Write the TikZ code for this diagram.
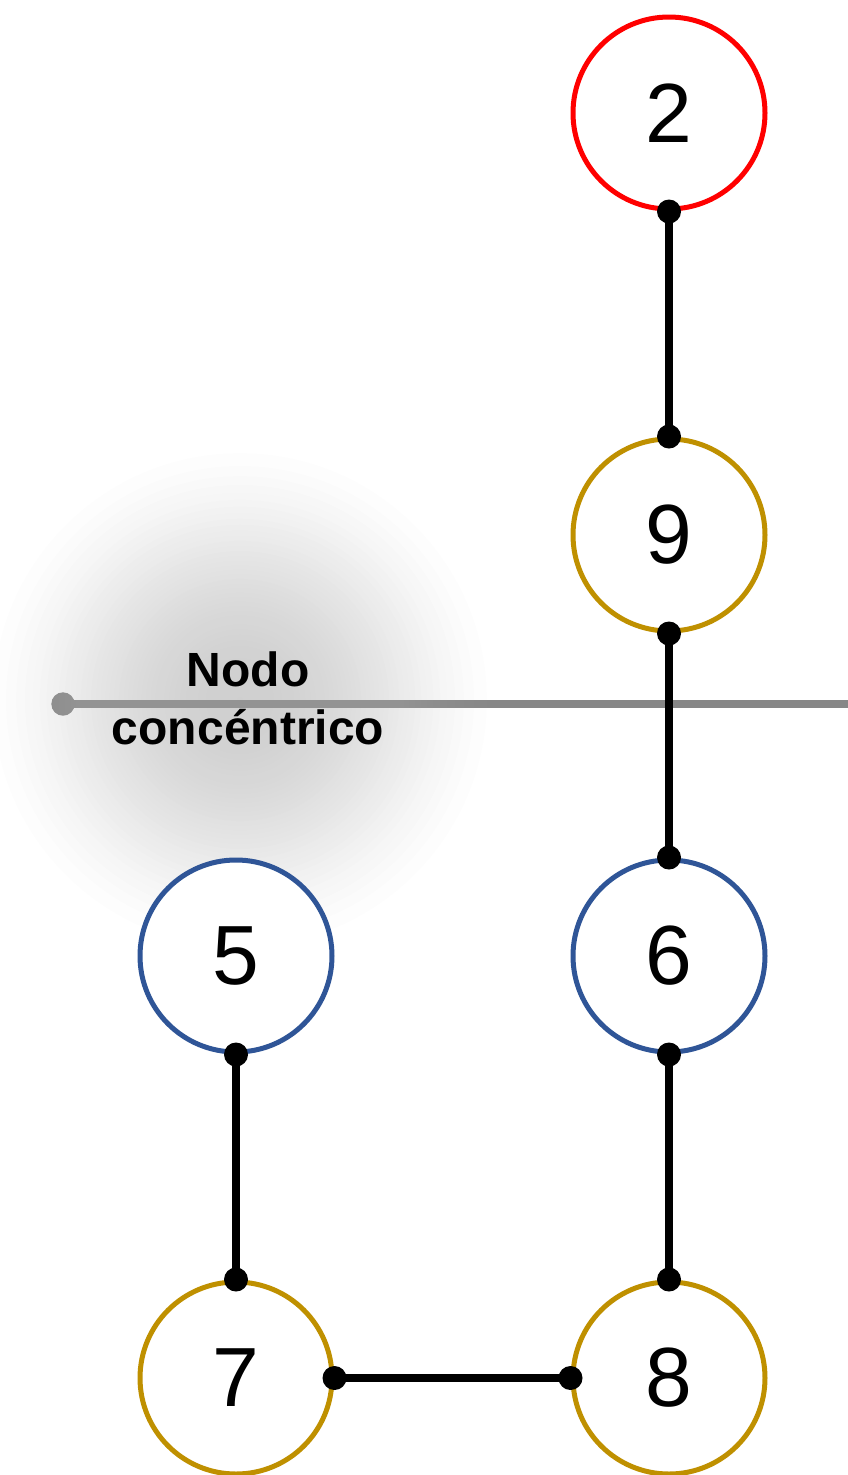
\documentclass[tikz,border=0pt]{standalone}
\usepackage{fontspec}
\setmainfont{Liberation Sans}
\definecolor{cred}{HTML}{FF0000}
\definecolor{cgold}{HTML}{BF9000}
\definecolor{cblue}{HTML}{2F5597}
\definecolor{cline}{HTML}{878787}
\definecolor{cglow}{HTML}{B7B7B7}
\newcommand{\edgedot}[1]{\fill[black] (#1) circle[radius=12pt];}
\tikzset{
  vnode/.style={circle, draw, line width=5pt, minimum size=192pt, inner sep=0pt, fill=white, font=\fontsize{84}{100}\selectfont},
  conn/.style={line width=8pt, black},
  refline/.style={line width=8pt, cline}
}
\begin{document}
\begin{tikzpicture}[x=1pt,y=-1pt]
\useasboundingbox (0,0) rectangle (848,1475);
% reference line
\coordinate (ls) at (63,704);
\coordinate (le) at (848,704);
\draw[refline] (ls) -- (le);
\fill[cline] (ls) circle[radius=11.7pt];
% glow: stacked translucent discs
\coordinate (gc) at (240,700);
\foreach \k in {1,...,40}{
  \pgfmathsetmacro{\q}{min(1,(1-pow(0.9734,\k))/0.66)}
  \pgfmathsetmacro{\rr}{275*sqrt(max(0,1-sqrt(\q)))+1}
  \fill[cglow, fill opacity=0.0266] (gc) circle[radius=\rr];
}
\node[font=\bfseries\fontsize{48}{58}\selectfont, align=center] (lab) at (248,698) {Nodo\\concéntrico};
% nodes
\node[vnode, draw=cred] (n2) at (669,113) {2};
\node[vnode, draw=cgold] (n9) at (669,535) {9};
\node[vnode, draw=cblue] (n6) at (669,956) {6};
\node[vnode, draw=cblue] (n5) at (236,956) {5};
\node[vnode, draw=cgold] (n7) at (236,1378) {7};
\node[vnode, draw=cgold] (n8) at (669,1378) {8};
% connectors
\draw[conn] (n2.south) -- (n9.north);
\draw[conn] (n9.south) -- (n6.north);
\draw[conn] (n6.south) -- (n8.north);
\draw[conn] (n5.south) -- (n7.north);
\draw[conn] (n7.east) -- (n8.west);
\edgedot{n2.south}\edgedot{n9.north}
\edgedot{n9.south}\edgedot{n6.north}
\edgedot{n6.south}\edgedot{n8.north}
\edgedot{n5.south}\edgedot{n7.north}
\edgedot{n7.east}\edgedot{n8.west}
\end{tikzpicture}
\end{document}
